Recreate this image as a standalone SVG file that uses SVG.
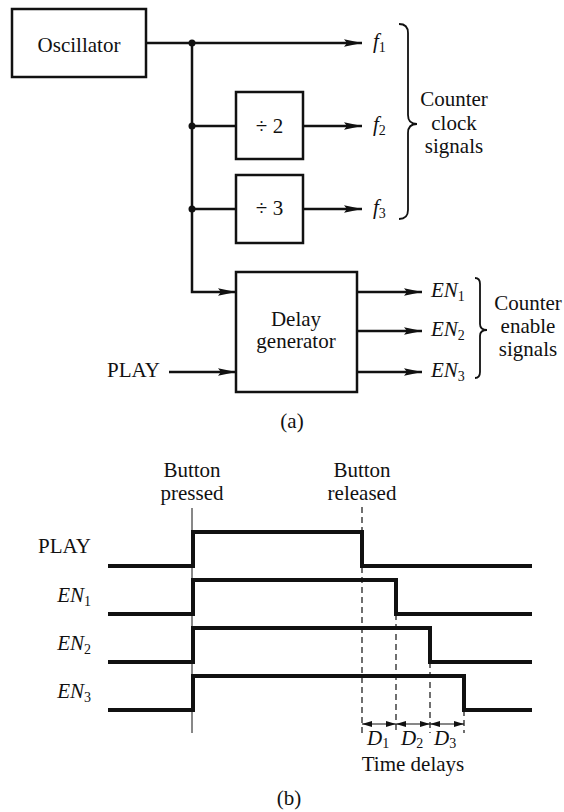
<svg xmlns="http://www.w3.org/2000/svg" width="564" height="812" viewBox="0 0 564 812">
<style>
  text { font-family: "Liberation Serif", "Times New Roman", serif; font-size: 21px; fill: #111; }
  .mid { text-anchor: middle; }
  .end { text-anchor: end; }
  .it { font-style: italic; }
  .sub { font-size: 14px; font-style: normal; }
  .box { fill: #fff; stroke: #111; stroke-width: 2.5; }
  .wire { fill: none; stroke: #111; stroke-width: 2.5; }
  .brace { fill: none; stroke: #111; stroke-width: 1.8; }
  .wave { fill: none; stroke: #111; stroke-width: 4; stroke-linejoin: miter; }
  .thin { fill: none; stroke: #111; stroke-width: 1; }
  .dash { fill: none; stroke: #111; stroke-width: 1.2; stroke-dasharray: 6 4; }
  .dim { fill: none; stroke: #111; stroke-width: 1.2; }
</style>
<defs>
  <marker id="arr" markerUnits="userSpaceOnUse" markerWidth="18" markerHeight="10" refX="18" refY="5" orient="auto">
    <path d="M0,1.2 L18,5 L0,8.8 L3,5 Z" fill="#111"/>
  </marker>
  <marker id="sarr" markerUnits="userSpaceOnUse" markerWidth="10" markerHeight="7" refX="10" refY="3.5" orient="auto-start-reverse">
    <path d="M0,0.5 L10,3.5 L0,6.5 Z" fill="#111"/>
  </marker>
</defs>
<rect width="564" height="812" fill="#fff"/>

<!-- (a) block diagram -->
<g id="connectors">
  <path class="wire" d="M146,43 H362" marker-end="url(#arr)"/>
  <path class="wire" d="M192,43 V292 H236" marker-end="url(#arr)"/>
  <path class="wire" d="M192,126 H236"/>
  <path class="wire" d="M192,209 H236"/>
  <path class="wire" d="M303,126 H362" marker-end="url(#arr)"/>
  <path class="wire" d="M303,209 H362" marker-end="url(#arr)"/>
  <path class="wire" d="M357,292 H422" marker-end="url(#arr)"/>
  <path class="wire" d="M357,331 H422" marker-end="url(#arr)"/>
  <path class="wire" d="M357,372 H422" marker-end="url(#arr)"/>
  <path class="wire" d="M169,372 H236" marker-end="url(#arr)"/>
  <circle cx="192" cy="43" r="3.5" fill="#111"/>
  <circle cx="192" cy="126" r="3.5" fill="#111"/>
  <circle cx="192" cy="209" r="3.5" fill="#111"/>
</g>

<g id="oscillator">
  <rect class="box" x="12" y="9" width="134" height="68"/>
  <text class="mid" x="79" y="52">Oscillator</text>
</g>
<g id="div2">
  <rect class="box" x="236" y="92" width="67" height="67"/>
  <text class="mid" x="269.5" y="133">÷ 2</text>
</g>
<g id="div3">
  <rect class="box" x="236" y="175" width="67" height="68"/>
  <text class="mid" x="269.5" y="215">÷ 3</text>
</g>
<g id="delay-generator">
  <rect class="box" x="236" y="272" width="121" height="120"/>
  <text class="mid" x="296" y="326">Delay</text>
  <text class="mid" x="296" y="348">generator</text>
</g>

<g id="labels-a">
  <text x="373" y="48"><tspan class="it">f</tspan><tspan class="sub" dy="4">1</tspan></text>
  <text x="373" y="131"><tspan class="it">f</tspan><tspan class="sub" dy="4">2</tspan></text>
  <text x="373" y="214"><tspan class="it">f</tspan><tspan class="sub" dy="4">3</tspan></text>
  <path class="brace" d="M399,24 Q408,24 408,33 L408,115 Q408,124 417,124 Q408,124 408,133 L408,210 Q408,219 399,219"/>
  <text class="mid" x="454" y="106">Counter</text>
  <text class="mid" x="454" y="130">clock</text>
  <text class="mid" x="454" y="153">signals</text>

  <text x="107" y="377">PLAY</text>
  <text x="431" y="297"><tspan class="it">EN</tspan><tspan class="sub" dy="4">1</tspan></text>
  <text x="431" y="336"><tspan class="it">EN</tspan><tspan class="sub" dy="4">2</tspan></text>
  <text x="431" y="377"><tspan class="it">EN</tspan><tspan class="sub" dy="4">3</tspan></text>
  <path class="brace" d="M475,278 Q480,278 480,284 L480,324 Q480,330 487,330 Q480,330 480,336 L480,372 Q480,378 475,378"/>
  <text class="mid" x="528" y="310">Counter</text>
  <text class="mid" x="528" y="333">enable</text>
  <text class="mid" x="528" y="356">signals</text>
  <text class="mid" x="292" y="428">(a)</text>
</g>

<!-- (b) timing diagram -->
<g id="timing">
  <text class="mid" x="192" y="477">Button</text>
  <text class="mid" x="192" y="500">pressed</text>
  <text class="mid" x="362" y="477">Button</text>
  <text class="mid" x="362" y="500">released</text>

  <path class="thin" d="M192,508 V733"/>
  <path class="dash" d="M362,507 V733"/>
  <path class="dash" d="M396,614 V733"/>
  <path class="dash" d="M430,662 V733"/>
  <path class="dash" d="M464,710 V733"/>

  <text class="end" x="91" y="553">PLAY</text>
  <text class="end" x="91" y="602"><tspan class="it">EN</tspan><tspan class="sub" dy="4">1</tspan></text>
  <text class="end" x="91" y="650"><tspan class="it">EN</tspan><tspan class="sub" dy="4">2</tspan></text>
  <text class="end" x="91" y="698"><tspan class="it">EN</tspan><tspan class="sub" dy="4">3</tspan></text>

  <path class="wave" d="M108,566 H193 V532 H362 V566 H532"/>
  <path class="wave" d="M108,614 H193 V580 H396 V614 H532"/>
  <path class="wave" d="M108,662 H193 V628 H430 V662 H532"/>
  <path class="wave" d="M108,710 H193 V676 H464 V710 H532"/>

  <path class="dim" d="M362,724 H396" marker-start="url(#sarr)" marker-end="url(#sarr)"/>
  <path class="dim" d="M396,724 H430" marker-start="url(#sarr)" marker-end="url(#sarr)"/>
  <path class="dim" d="M430,724 H464" marker-start="url(#sarr)" marker-end="url(#sarr)"/>

  <text x="367" y="745"><tspan class="it">D</tspan><tspan class="sub" dy="3">1</tspan></text>
  <text x="401" y="745"><tspan class="it">D</tspan><tspan class="sub" dy="3">2</tspan></text>
  <text x="434" y="745"><tspan class="it">D</tspan><tspan class="sub" dy="3">3</tspan></text>
  <text class="mid" x="413" y="771">Time delays</text>
  <text class="mid" x="289" y="805">(b)</text>
</g>
</svg>
